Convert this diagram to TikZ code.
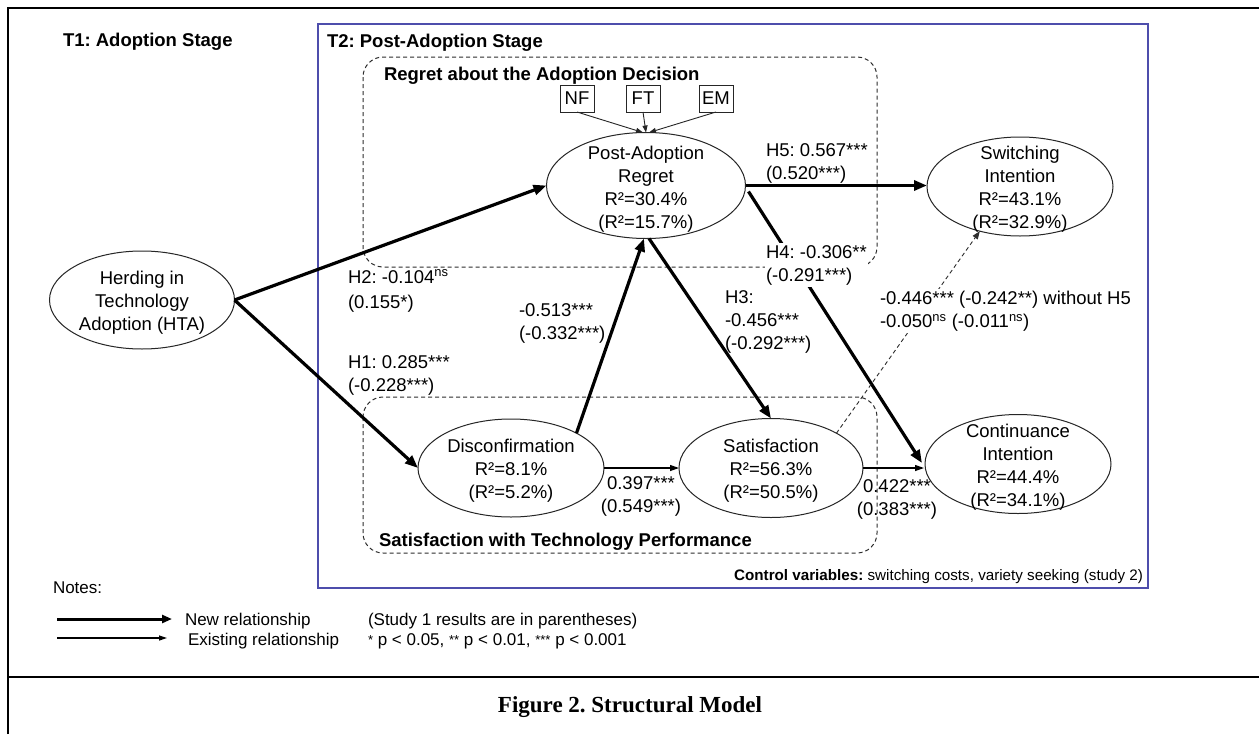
\documentclass[tikz,border=0pt]{standalone}
\usepackage{fontspec}
\setmainfont{Liberation Sans}
\newfontfamily\capfont{Liberation Serif}
\usetikzlibrary{arrows.meta,calc,shapes.geometric}
\definecolor{bluebox}{RGB}{78,78,172}
\definecolor{dashgray}{RGB}{45,45,45}
\newcommand{\sast}{\raisebox{0.06ex}{\fontsize{13}{13}\selectfont *}}
\frenchspacing
\begin{document}
\begin{tikzpicture}[x=1pt,y=-1pt,
  every node/.style={font=\fontsize{18.5}{23}\selectfont, inner sep=0pt, outer sep=0pt},
  ell/.style={draw=black!85, line width=1pt, ellipse},
  txt/.style={align=center},
  lab/.style={align=left, anchor=west},
  labc/.style={align=center},
  ttl/.style={anchor=base west, font=\bfseries\fontsize{18.5}{23}\selectfont},
  legtxt/.style={anchor=base west, font=\fontsize{17}{21}\selectfont},
  facbox/.style={draw=black!85, line width=1pt, minimum width=34pt, minimum height=27pt},
  frame/.style={line width=2.2pt, black},
  blueframe/.style={line width=1.6pt, bluebox},
  dbox/.style={draw=dashgray, line width=1pt, dash pattern=on 4pt off 3pt, rounded corners=20pt},
  newrel/.style={line width=3.2pt, -{Triangle[length=13pt,width=10pt]}},
  oldrel/.style={line width=1.2pt, -{Triangle[length=9pt,width=6pt]}},
  inrel/.style={line width=0.9pt, draw=black!85, -{Triangle[length=7pt,width=5pt]}},
  dashrel/.style={line width=0.9pt, draw=dashgray, dash pattern=on 4pt off 3pt, -{Triangle[length=8pt,width=6pt]}},
  legnew/.style={line width=3pt, -{Triangle[length=10pt,width=8pt]}},
  legold/.style={line width=1.2pt, -{Triangle[length=8pt,width=5pt]}}
]
\useasboundingbox (0,0) rectangle (1259,734);
\fill[white] (0,0) rectangle (1259,734);

% frames
\draw[frame] (8,734) -- (8,8) -- (1259,8);
\draw[frame] (8,677) -- (1259,677);
\draw[blueframe] (318,24) rectangle (1148,588);
\draw[dbox] (363,57) rectangle (877,267);
\draw[dbox] (363,397) rectangle (877,553);

% titles
\node[ttl] (t1) at (63,46) {T1: Adoption Stage};
\node[ttl] (t2) at (327,47) {T2: Post-Adoption Stage};
\node[ttl] (rgt) at (384,80) {Regret about the Adoption Decision};
\node[ttl] (stt) at (379,546) {Satisfaction with Technology Performance};
\node[anchor=base east, font=\fontsize{15.2}{18}\selectfont] (cv) at (1143,580)
  {\textbf{Control variables:} switching costs, variety seeking (study 2)};

% construct ellipses
\node[ell, minimum width=185pt, minimum height=98pt] (hta) at (142,300) {};
\node[ell, minimum width=199pt, minimum height=106pt] (reg) at (646,185.5) {};
\node[ell, minimum width=186pt, minimum height=99pt] (sw) at (1020,186.5) {};
\node[ell, minimum width=186pt, minimum height=98pt] (dis) at (511,468) {};
\node[ell, minimum width=184pt, minimum height=99pt] (sat) at (771,468) {};
\node[ell, minimum width=186pt, minimum height=99pt] (ci) at (1018,464) {};

\node[txt] (htat) at (142,303) {Herding in\\Technology\\Adoption (HTA)};
\node[txt] (regt) at (646,189) {Post-Adoption\\Regret\\R²=30.4\%\\(R²=15.7\%)};
\node[txt] (swt) at (1020,189) {Switching\\Intention\\R²=43.1\%\\(R²=32.9\%)};
\node[txt] (dist) at (511,471) {Disconfirmation\\R²=8.1\%\\(R²=5.2\%)};
\node[txt] (satt) at (771,471) {Satisfaction\\R²=56.3\%\\(R²=50.5\%)};
\node[txt] (cit) at (1018,467) {Continuance\\Intention\\R²=44.4\%\\(R²=34.1\%)};

% regret facets
\node[facbox] (nf) at (577,98.5) {NF};
\node[facbox] (ft) at (643,98.5) {FT};
\node[facbox] (em) at (716,98.5) {EM};
\draw[inrel] (nf.south) -- ([xshift=-3pt]reg.north);
\draw[inrel] (ft.south) -- (reg.north);
\draw[inrel] (em.south) -- ([xshift=3pt]reg.north);

% connectors
\draw[newrel] (hta.east) -- (reg.west);
\draw[newrel] (hta.east) -- (dis.west);
\draw[newrel] (dis.28) -- ([xshift=-2pt]reg.south);
\draw[newrel] ([xshift=3pt]reg.south) -- (sat.north);
\draw[newrel] (reg.east) -- (reg.east -| sw.west);
\draw[newrel] ($(reg.east)+(3,6)$) -- ($(ci.west)+(-3,-1)$);
\draw[oldrel] (dis.east) -- (sat.west);
\draw[oldrel] (sat.east) -- ($(sat.east -| ci.west)+(-1,0)$);
\draw[dashrel] (sat.28) -- (sw.228);

% path labels
\node[lab] (lh5) at (766,163.5) {H5: 0.567***\\(0.520***)};
\node[lab, fill=white, inner xsep=1pt, inner ysep=2pt] (lh4) at (765,265) {H4: -0.306**\\(-0.291***)};
\node[lab] (lh3) at (725,322) {H3:\\-0.456***\\(-0.292***)};
\node[lab] (lh2) at (348,291) {H2: -0.104\textsuperscript{ns}\\[2pt](0.155*)};
\node[lab] (lh1) at (348,375) {H1: 0.285***\\(-0.228***)};
\node[lab] (ldr) at (519,323) {-0.513***\\(-0.332***)};
\node[labc] (lds) at (641,496) {0.397***\\(0.549***)};
\node[labc] (lsc) at (897,499) {0.422***\\(0.383***)};
\node[lab, fill=white, inner xsep=1pt, inner ysep=2pt] (lsw) at (879,311)
  {-0.446*** (-0.242**) without H5\\-0.050\textsuperscript{ns} (-0.011\textsuperscript{ns})};

% notes
\node[legtxt] (notes) at (53,593) {Notes:};
\coordinate (la1) at (57,619);
\coordinate (lb1) at (172,619);
\coordinate (la2) at (57,638);
\coordinate (lb2) at (167,638);
\draw[legnew] (la1) -- (lb1);
\draw[legold] (la2) -- (lb2);
\node[legtxt] (nr) at (185,625) {New relationship};
\node[legtxt] (er) at (188,645) {Existing relationship};
\node[legtxt] (s1) at (368,625) {(Study 1 results are in parentheses)};
\node[legtxt] (pv) at (368,645) {\sast{} p < 0.05, \sast\sast{} p < 0.01, \sast\sast\sast{} p < 0.001};

% caption
\node[anchor=base, font=\capfont\bfseries\fontsize{23}{27}\selectfont] (cap) at (630,712) {Figure 2. Structural Model};
\end{tikzpicture}
\end{document}
